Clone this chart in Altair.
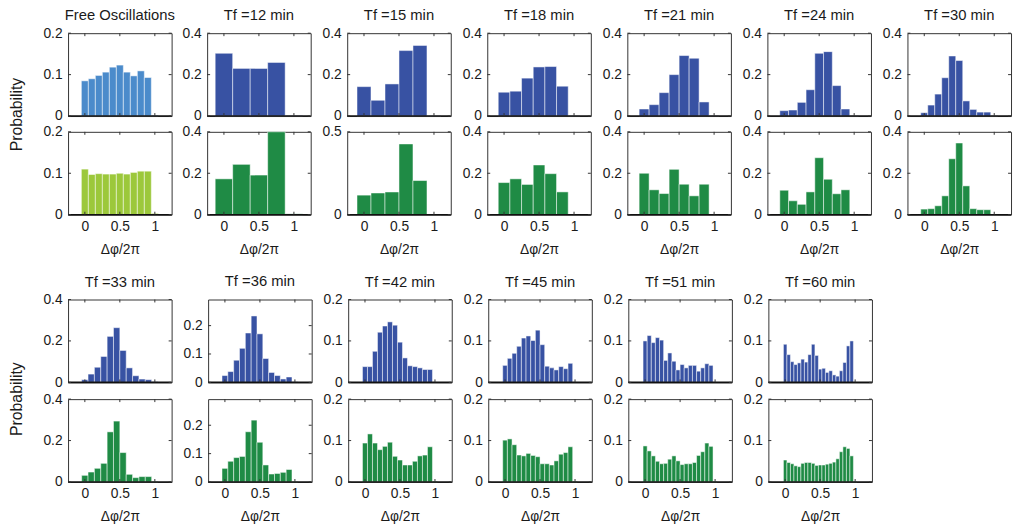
import altair as alt
import pandas as pd

# ---------------- data (probabilities) ----------------
titles_top = ["Free Oscillations", "Tf =12 min", "Tf =15 min", "Tf =18 min",
              "Tf =21 min", "Tf =24 min", "Tf =30 min"]
titles_bot = ["Tf =33 min", "Tf =36 min", "Tf =42 min", "Tf =45 min",
              "Tf =51 min", "Tf =60 min"]

free_blue = [0.085, 0.090, 0.098, 0.106, 0.118, 0.123, 0.106, 0.097, 0.109, 0.093, 0.002]
free_green = [0.110, 0.097, 0.099, 0.098, 0.098, 0.100, 0.098, 0.102, 0.105, 0.105, 0.003]
tf12_blue = [0.303, 0.230, 0.230, 0.259, 0.003]
tf12_green = [0.173, 0.243, 0.191, 0.400, 0.004]
tf15_blue = [0.142, 0.076, 0.155, 0.316, 0.341, 0.002]
tf15_green = [0.118, 0.131, 0.137, 0.427, 0.206, 0.003]
tf18_blue = [0.115, 0.120, 0.183, 0.237, 0.239, 0.144, 0.002]
tf18_green = [0.155, 0.173, 0.146, 0.240, 0.198, 0.110, 0.002]
tf21_blue = [0.034, 0.055, 0.113, 0.200, 0.292, 0.279, 0.068, 0.003]
tf21_green = [0.200, 0.120, 0.102, 0.219, 0.147, 0.091, 0.147, 0.002]
tf24_blue = [0.026, 0.029, 0.066, 0.127, 0.303, 0.311, 0.147, 0.034, 0.002]
tf24_green = [0.118, 0.067, 0.050, 0.110, 0.275, 0.171, 0.101, 0.120, 0.002]
tf30_blue = [0.016, 0.053, 0.106, 0.185, 0.290, 0.268, 0.073, 0.032, 0.019, 0.019, 0.002]
tf30_green = [0.027, 0.029, 0.043, 0.091, 0.270, 0.346, 0.139, 0.029, 0.024, 0.024, 0.002]
tf33_blue = [0.013, 0.040, 0.073, 0.125, 0.222, 0.264, 0.154, 0.070, 0.032, 0.016, 0.013, 0.003]
tf33_green = [0.032, 0.048, 0.066, 0.090, 0.242, 0.294, 0.142, 0.037, 0.021, 0.026, 0.026, 0.003]
tf36_blue = [0.024, 0.038, 0.078, 0.120, 0.174, 0.234, 0.171, 0.084, 0.035, 0.024, 0.012, 0.019, 0.002]
tf36_green = [0.048, 0.073, 0.086, 0.090, 0.177, 0.218, 0.140, 0.060, 0.028, 0.030, 0.034, 0.044, 0.002]
tf42_blue = [0.038, 0.038, 0.075, 0.121, 0.136, 0.146, 0.138, 0.097, 0.059, 0.040, 0.038,
             0.035, 0.031, 0.031, 0.001]
tf42_green = [0.094, 0.116, 0.094, 0.078, 0.086, 0.096, 0.062, 0.053, 0.041, 0.041, 0.050,
              0.063, 0.065, 0.085, 0.002]
tf45_blue = [0.041, 0.058, 0.070, 0.087, 0.107, 0.112, 0.101, 0.126, 0.091, 0.039, 0.035,
             0.030, 0.038, 0.033, 0.046, 0.001]
tf45_green = [0.101, 0.104, 0.090, 0.065, 0.063, 0.069, 0.064, 0.061, 0.044, 0.044, 0.041,
              0.051, 0.067, 0.071, 0.085, 0.002]
tf51_blue = [0.100, 0.113, 0.096, 0.108, 0.102, 0.053, 0.071, 0.051, 0.030, 0.043, 0.035,
             0.041, 0.041, 0.027, 0.035, 0.045, 0.041, 0.001]
tf51_green = [0.087, 0.075, 0.063, 0.050, 0.044, 0.045, 0.055, 0.063, 0.051, 0.042, 0.044,
              0.044, 0.047, 0.064, 0.073, 0.094, 0.086, 0.002]
tf60_blue = [0.092, 0.067, 0.050, 0.043, 0.047, 0.056, 0.049, 0.067, 0.092, 0.065, 0.032,
             0.034, 0.024, 0.028, 0.018, 0.015, 0.028, 0.048, 0.088, 0.100, 0.001]
tf60_green = [0.053, 0.047, 0.044, 0.039, 0.037, 0.045, 0.047, 0.047, 0.045, 0.040, 0.041,
              0.041, 0.043, 0.045, 0.048, 0.056, 0.073, 0.085, 0.081, 0.063, 0.002]

top_blue = [free_blue, tf12_blue, tf15_blue, tf18_blue, tf21_blue, tf24_blue, tf30_blue]
top_green = [free_green, tf12_green, tf15_green, tf18_green, tf21_green, tf24_green, tf30_green]
bot_blue = [tf33_blue, tf36_blue, tf42_blue, tf45_blue, tf51_blue, tf60_blue]
bot_green = [tf33_green, tf36_green, tf42_green, tf45_green, tf51_green, tf60_green]

ymax_top_blue = [0.2, 0.4, 0.4, 0.4, 0.4, 0.4, 0.4]
ymax_top_green = [0.2, 0.4, 0.5, 0.4, 0.4, 0.4, 0.4]
ymax_bot = [0.4, 0.292, 0.2, 0.2, 0.2, 0.2]

x_ticks = [0, 0.5, 1]
x_domain = [-0.24, 1.24]
x_title = "Δφ/2π"
y_title = "Probability"

BLUE = "#3852a3"
GREEN = "#1f8b45"
LIGHT_BLUE = "#4b8bcb"
LIME = "#9cc83b"

# ---------------- styling ----------------
FONT = "Liberation Sans"
W, H = 105, 84
TICK = 3
LABEL_OVER = 7   # how far a y label centred on the top edge sticks out above the box


def yticks_for(ymax):
    if ymax == 0.5:
        return [0, 0.5]
    if ymax == 0.4:
        return [0, 0.2, 0.4]
    return [0, 0.1, 0.2]


def panel(vals, ymax, color, title=None, bottom=False, title_offset=3):
    n = len(vals) - 1
    w = 1.0 / n
    df = pd.DataFrame({
        "x0": [k * w - w / 2 for k in range(n + 1)],
        "x1": [k * w + w / 2 for k in range(n + 1)],
        "p": [min(v, ymax) for v in vals],
        "b": [0.0] * (n + 1),
    })
    yt = yticks_for(ymax)
    xs = alt.Scale(domain=x_domain, nice=False, zero=False)
    ys = alt.Scale(domain=[0, ymax], nice=False, zero=False)
    if bottom:
        xaxis = alt.Axis(values=x_ticks, format="~g", ticks=False, domain=False, grid=False,
                         labelPadding=5, labelFlush=False, title=x_title, titlePadding=9)
    else:
        xaxis = None
    yaxis = alt.Axis(values=yt, format="~g", ticks=False, domain=False, grid=False,
                     labelPadding=6, title=None)

    bars = alt.Chart(df).mark_rect(color=color, stroke="white", strokeWidth=0.5).encode(
        x=alt.X("x0:Q", scale=xs, axis=xaxis),
        x2="x1:Q",
        y=alt.Y("p:Q", scale=ys, axis=yaxis),
        y2="b:Q",
    )
    base = alt.Chart(pd.DataFrame({"b": [0.0]})).mark_rule(color="#111", strokeWidth=1.6).encode(
        y=alt.Y("b:Q", scale=ys), x=alt.value(0), x2=alt.value(W)
    )
    xt = pd.DataFrame({"t": x_ticks})
    yd = pd.DataFrame({"t": yt})
    tk = dict(color="#333", strokeWidth=1)
    xt_bot = alt.Chart(xt).mark_rule(**tk).encode(
        x=alt.X("t:Q", scale=xs), y=alt.value(H), y2=alt.value(H - TICK))
    xt_top = alt.Chart(xt).mark_rule(**tk).encode(
        x=alt.X("t:Q", scale=xs), y=alt.value(0), y2=alt.value(TICK))
    yt_l = alt.Chart(yd).mark_rule(**tk).encode(
        y=alt.Y("t:Q", scale=ys), x=alt.value(0), x2=alt.value(TICK))
    yt_r = alt.Chart(yd).mark_rule(**tk).encode(
        y=alt.Y("t:Q", scale=ys), x=alt.value(W), x2=alt.value(W - TICK))

    ch = alt.layer(bars, base, xt_bot, xt_top, yt_l, yt_r).properties(width=W, height=H)
    if title is not None:
        ch = ch.properties(title=alt.TitleParams(title, fontSize=15, fontWeight="normal",
                                                 font=FONT, color="#1a1a1a",
                                                 offset=title_offset))
    return ch


def column(title, bvals, gvals, ybm, ygm, cb, cg, spacing, ylab=False, ydx=0):
    kw = {}
    if ylab:
        kw["title"] = alt.TitleParams(y_title, orient="left", anchor="middle", fontSize=16,
                                      fontWeight="normal", font=FONT, color="#1a1a1a",
                                      offset=18, dx=ydx)
    # panels whose top tick is below the box edge have no label sticking out above;
    # compensate so that all boxes line up
    extra_b = 0 if ybm in yticks_for(ybm) else LABEL_OVER
    extra_g = 0 if ygm in yticks_for(ygm) else LABEL_OVER
    return alt.vconcat(panel(bvals, ybm, cb, title=title, title_offset=3 + extra_b),
                       panel(gvals, ygm, cg, bottom=True),
                       spacing=spacing + extra_g, **kw)


SH = 9
top_cols = [column(titles_top[i], top_blue[i], top_green[i], ymax_top_blue[i], ymax_top_green[i],
                   BLUE, GREEN, 0) for i in range(1, 7)]
top_first = column(titles_top[0], top_blue[0], top_green[0], ymax_top_blue[0], ymax_top_green[0],
                   LIGHT_BLUE, LIME, 0, ylab=True, ydx=18)
top = alt.hconcat(top_first, alt.hconcat(*top_cols, spacing=SH), spacing=SH - 3)

bot_cols = [column(titles_bot[i], bot_blue[i], bot_green[i], ymax_bot[i], ymax_bot[i],
                   BLUE, GREEN, 1, ylab=(i == 0)) for i in range(6)]
bottom = alt.hconcat(*bot_cols, spacing=SH)

chart = alt.vconcat(top, bottom, spacing=17).configure_view(
    stroke="#333", strokeWidth=1
).configure_axis(
    labelFont=FONT, labelFontSize=14, labelColor="#1a1a1a",
    titleFont=FONT, titleFontSize=14, titleFontWeight="normal", titleColor="#1a1a1a"
).properties(
    padding={"left": 9, "top": 4, "right": 0, "bottom": 0}, background="white"
)

chart.save("out.html", embed_options={"renderer": "svg", "actions": False})
